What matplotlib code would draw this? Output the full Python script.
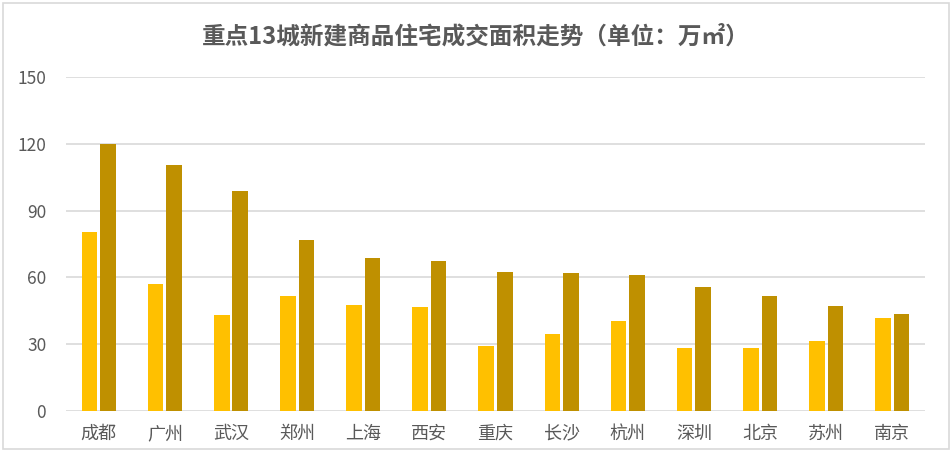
import matplotlib
matplotlib.use("Agg")
import matplotlib.pyplot as plt
import numpy as np
from matplotlib.patches import Rectangle

plt.rcParams['font.family'] = ['Noto Sans CJK SC', 'DejaVu Sans']

categories = ["成都", "广州", "武汉", "郑州", "上海", "西安", "重庆", "长沙", "杭州", "深圳", "北京", "苏州", "南京"]
series_a = [80.5, 57, 43, 51.7, 47.6, 46.7, 29.3, 34.6, 40.4, 28.4, 28.4, 31.5, 41.8]
series_b = [120, 110.5, 99, 77, 68.8, 67.4, 62.5, 62, 61, 55.7, 51.7, 47.2, 43.6]
yticks = [0, 30, 60, 90, 120, 150]
title = "重点13城新建商品住宅成交面积走势（单位：万㎡）"

fig = plt.figure(figsize=(9.52, 4.5), dpi=100)
fig.patches.append(Rectangle((0.003, 0.003), 0.994, 0.99, transform=fig.transFigure,
                             fill=False, edgecolor="#D9D9D9", linewidth=1.2))
ax = fig.add_axes([0.069, 0.0867, 0.903, 0.742])

x = np.arange(len(categories))
w = 0.235
ax.bar(x - 0.14, series_a, width=w, color="#FFC000", zorder=3)
ax.bar(x + 0.14, series_b, width=w, color="#BF9000", zorder=3)

ax.set_xlim(-0.5, len(categories) - 0.5)
ax.set_ylim(0, 150)
ax.set_yticks(yticks)
ax.set_xticks(x)
ax.set_xticklabels(categories, fontsize=13, fontweight="light")
ax.grid(axis="y", color="#D9D9D9", linewidth=1.2, zorder=0)
for s in ["top", "right", "left", "bottom"]:
    ax.spines[s].set_visible(False)
ax.tick_params(axis="both", length=0, colors="#595959")
ax.tick_params(axis="y", labelsize=12.5, pad=14)
ax.tick_params(axis="x", pad=10)

fig.text(0.5, 0.918, title, ha="center", va="center", fontsize=17, fontweight="bold", color="#595959")

fig.savefig("out.png", dpi=100)
